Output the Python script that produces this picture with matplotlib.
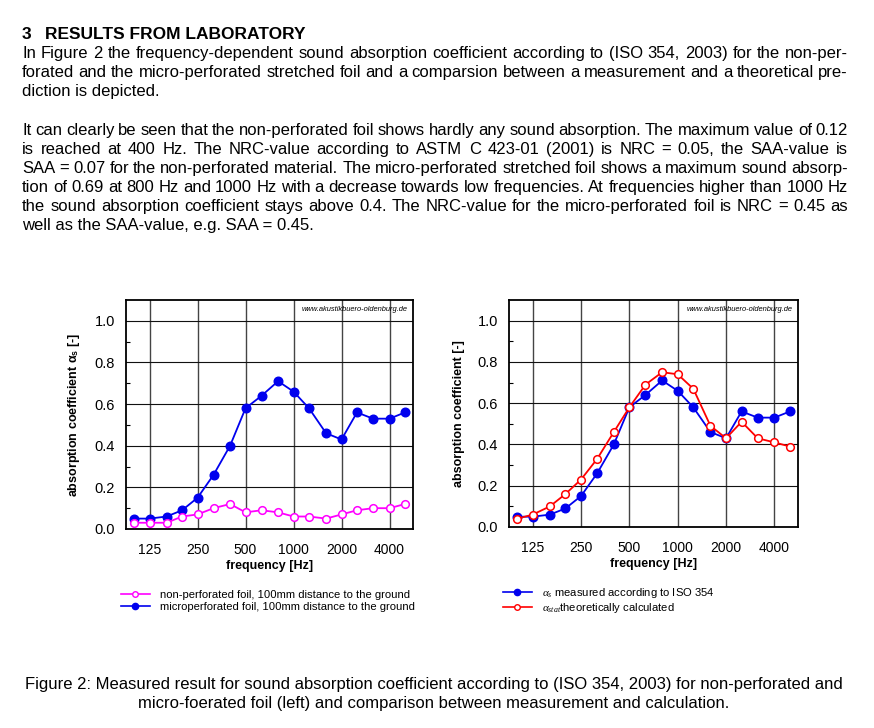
import matplotlib
matplotlib.use("Agg")
import matplotlib.pyplot as plt
from matplotlib.lines import Line2D
from matplotlib.ticker import FixedLocator, NullLocator

plt.rcParams['font.family'] = ['Liberation Sans', 'DejaVu Sans']
plt.rcParams['mathtext.fontset'] = 'custom'
plt.rcParams['mathtext.rm'] = 'Liberation Serif'
plt.rcParams['mathtext.it'] = 'Liberation Serif:italic'

# third-octave band centre frequencies
freqs = [100, 125, 160, 200, 250, 315, 400, 500, 630, 800,
         1000, 1250, 1600, 2000, 2500, 3150, 4000, 5000]

# left chart
non_perforated = [0.03, 0.03, 0.03, 0.06, 0.07, 0.10, 0.12, 0.08, 0.09, 0.08,
                  0.06, 0.06, 0.05, 0.07, 0.09, 0.10, 0.10, 0.12]
micro_perforated = [0.05, 0.05, 0.06, 0.09, 0.15, 0.26, 0.40, 0.58, 0.64, 0.71,
                    0.66, 0.58, 0.46, 0.43, 0.56, 0.53, 0.53, 0.56]

# right chart
measured = micro_perforated
calculated = [0.04, 0.06, 0.10, 0.16, 0.23, 0.33, 0.46, 0.58, 0.69, 0.75,
              0.74, 0.67, 0.49, 0.43, 0.51, 0.43, 0.41, 0.39]

xtick_freqs = [125, 250, 500, 1000, 2000, 4000]
xtick_labels = ["125", "250", "500", "1000", "2000", "4000"]
ytick_vals = [0.0, 0.2, 0.4, 0.6, 0.8, 1.0]
ytick_labels = ["0.0", "0.2", "0.4", "0.6", "0.8", "1.0"]

heading_num = "3"
heading = "RESULTS FROM LABORATORY"
para1 = ["In Figure 2 the frequency-dependent sound absorption coefficient according to (ISO 354, 2003) for the non-per-",
         "forated and the micro-perforated stretched foil and a comparsion between a measurement and a theoretical pre-",
         "diction is depicted."]
para2 = ["It can clearly be seen that the non-perforated foil shows hardly any sound absorption. The maximum value of 0.12",
         "is reached at 400 Hz. The NRC-value according to ASTM C 423-01 (2001) is NRC = 0.05, the SAA-value is",
         "SAA = 0.07 for the non-perforated material. The micro-perforated stretched foil shows a maximum sound absorp-",
         "tion of 0.69 at 800 Hz and 1000 Hz with a decrease towards low frequencies. At frequencies higher than 1000 Hz",
         "the sound absorption coefficient stays above 0.4. The NRC-value for the micro-perforated foil is NRC = 0.45 as",
         "well as the SAA-value, e.g. SAA = 0.45."]
caption = ["Figure 2: Measured result for sound absorption coefficient according to (ISO 354, 2003) for non-perforated and",
           "micro-foerated foil (left) and comparison between measurement and calculation."]
watermark = "www.akustikbuero-oldenburg.de"

W, H = 874, 728
fig = plt.figure(figsize=(W / 100, H / 100), dpi=100)
fig.patch.set_facecolor("white")

BLUE = "#0000ee"
MAG = "#ff00ff"
RED = "#ff0000"


def px(x, y):
    return x / W, 1 - y / H


def setup_axes(rect, ylabel):
    ax = fig.add_axes(rect)
    ax.set_xscale("log")
    ax.set_xlim(89, 5612)
    ax.set_ylim(0, 1.1)
    ax.xaxis.set_major_locator(FixedLocator(xtick_freqs))
    ax.xaxis.set_minor_locator(NullLocator())
    ax.set_xticklabels(xtick_labels, fontsize=10)
    ax.set_yticks(ytick_vals)
    ax.set_yticklabels(ytick_labels, fontsize=10.5)
    ax.yaxis.set_minor_locator(FixedLocator([0.1, 0.3, 0.5, 0.7, 0.9]))
    ax.tick_params(axis="x", length=0, pad=10)
    ax.tick_params(axis="y", which="major", length=0, pad=8)
    ax.tick_params(axis="y", which="minor", length=3, direction="in", width=0.8)
    ax.grid(True, axis="x", color="#444444", linewidth=1.0)
    ax.grid(True, axis="y", color="#111111", linewidth=0.8)
    ax.set_axisbelow(True)
    for s in ax.spines.values():
        s.set_linewidth(1.3)
    ax.set_xlabel("frequency [Hz]", fontsize=9, fontweight="bold", labelpad=2)
    ax.set_ylabel(ylabel, fontsize=9, fontweight="bold", labelpad=9)
    ax.text(0.98, 0.975, watermark, transform=ax.transAxes, ha="right", va="top",
            fontsize=5.4, style="italic")
    return ax


# left chart
ax1 = setup_axes([126 / W, 1 - 529 / H, 287 / W, 229 / H],
                 r"absorption coefficient α$_\mathregular{s}$ [-]")
ax1.plot(freqs, micro_perforated, color=BLUE, lw=1.3, marker="o", ms=6.2,
         mfc=BLUE, mec=BLUE, zorder=3)
ax1.plot(freqs, non_perforated, color=MAG, lw=1.3, marker="o", ms=5.5,
         mfc="white", mec=MAG, mew=1.1, zorder=4)

# right chart
ax2 = setup_axes([509 / W, 1 - 527 / H, 289 / W, 227 / H],
                 "absorption coefficient [-]")
ax2.plot(freqs, measured, color=BLUE, lw=1.3, marker="o", ms=6.2,
         mfc=BLUE, mec=BLUE, zorder=3)
ax2.plot(freqs, calculated, color=RED, lw=1.3, marker="o", ms=5.5,
         mfc="white", mec=RED, mew=1.1, zorder=4)

# legends
h_mag = Line2D([], [], color=MAG, lw=1.2, marker="o", ms=4, mfc="white", mec=MAG)
h_blue = Line2D([], [], color=BLUE, lw=1.2, marker="o", ms=4.5, mfc=BLUE, mec=BLUE)
h_red = Line2D([], [], color=RED, lw=1.2, marker="o", ms=4, mfc="white", mec=RED)
fig.legend([h_mag, h_blue],
           ["non-perforated foil, 100mm distance to the ground",
            "microperforated foil, 100mm distance to the ground"],
           loc="upper left", bbox_to_anchor=px(115, 584), frameon=False,
           fontsize=8.1, handlelength=2.6, handletextpad=0.9, labelspacing=0.2,
           borderpad=0)
fig.legend([h_blue, h_red],
           [r"$\alpha_s$ measured according to ISO 354",
            r"$\alpha_{stat}$theoretically calculated"],
           loc="upper left", bbox_to_anchor=px(497, 580), frameon=False,
           fontsize=8.1, handlelength=2.6, handletextpad=0.9, labelspacing=0.1,
           borderpad=0)

# page text
fig.canvas.draw()
rend = fig.canvas.get_renderer()
BODY = 12
LEFT, RIGHT = 22, 848


def put_line(s, y, justify=True):
    # y is the baseline in pixels from the top
    if not justify:
        fig.text(*px(LEFT, y), s, fontsize=BODY, va="baseline", ha="left")
        return
    words = s.split(" ")
    ts = [fig.text(0, 0, w, fontsize=BODY, va="baseline", ha="left") for w in words]
    widths = [t.get_window_extent(rend).width for t in ts]
    gap = (RIGHT - LEFT - sum(widths)) / (len(words) - 1)
    x = LEFT
    for t, w in zip(ts, widths):
        t.set_position(px(x, y))
        x += w + gap


fig.text(*px(22, 39), heading_num, fontsize=12.5, fontweight="bold", va="baseline")
fig.text(*px(45, 39), heading, fontsize=12.5, fontweight="bold", va="baseline")
for i, line in enumerate(para1):
    put_line(line, 58 + 19 * i, justify=(i < len(para1) - 1))
for i, line in enumerate(para2):
    put_line(line, 135 + 19 * i, justify=(i < len(para2) - 1))
for i, line in enumerate(caption):
    fig.text(*px(434, 689 + 19 * i), line, fontsize=BODY, ha="center", va="baseline")

fig.savefig("out.png", dpi=100, facecolor="white")
